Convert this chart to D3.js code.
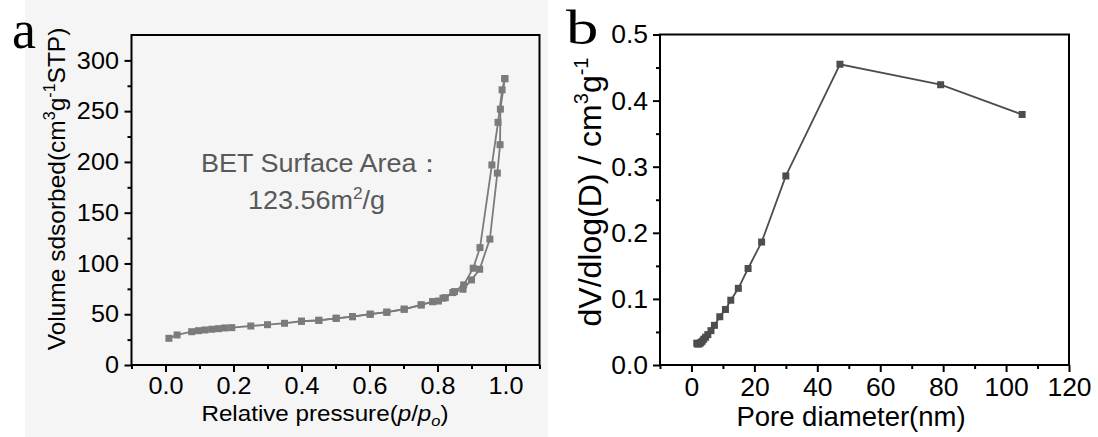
<!DOCTYPE html>
<html>
<head>
<meta charset="utf-8">
<script src="https://cdn.jsdelivr.net/npm/d3@7"></script>
<style>
body { margin: 0; background: #fff; }
text { font-family: Arial, "Liberation Sans", sans-serif; }
.axis path, .axis line { stroke: #000; stroke-width: 2px; }
.axis .tick text { fill: #000; }
</style>
</head>
<body>
<svg id="fig" width="1098" height="437"></svg>
<script>
// ---- panel a: N2 adsorption / desorption isotherm ----
var adsP = [0.01, 0.034, 0.077, 0.097, 0.116, 0.136, 0.156, 0.175, 0.195, 0.251, 0.30, 0.35, 0.40, 0.451, 0.502, 0.55, 0.602, 0.651, 0.702, 0.752, 0.786, 0.816, 0.845, 0.875, 0.90, 0.924, 0.954, 0.976, 0.984, 0.985, 0.998];
var adsV = [26.3, 29.6, 32.8, 33.8, 34.5, 35.2, 35.8, 36.5, 36.8, 38.4, 39.7, 41.1, 43.1, 44, 46, 47.6, 50, 52, 54.9, 59.2, 62.4, 65.8, 71.3, 74.6, 83.8, 94.3, 124, 189, 217, 252, 282];
var desP = [0.998, 0.99, 0.978, 0.96, 0.925, 0.905, 0.877, 0.85, 0.823, 0.803, 0.786, 0.752, 0.702, 0.651, 0.602, 0.55, 0.502, 0.451, 0.40];
var desV = [282, 271, 239, 197, 115.6, 95.3, 78.9, 72.3, 66.3, 63, 62.4, 59.2, 55, 52, 50, 47.6, 46, 44, 43.1];
var aTicksX = [0, 0.2, 0.4, 0.6, 0.8, 1.0];
var aMinorX = [-0.1, 0.1, 0.3, 0.5, 0.7, 0.9, 1.1];
var aTicksY = [0, 50, 100, 150, 200, 250, 300];
var aMinorY = [25, 75, 125, 175, 225, 275];

// ---- panel b: pore size distribution ----
var poreD = [1.7, 1.9, 2.1, 2.4, 2.7, 3.0, 3.4, 3.9, 4.5, 5.2, 6.2, 7.3, 9.0, 10.8, 12.5, 14.9, 18.0, 22.3, 30.0, 47.2, 79.2, 105.1];
var poreV = [0.033, 0.032, 0.032, 0.032, 0.033, 0.034, 0.036, 0.039, 0.042, 0.046, 0.052, 0.060, 0.073, 0.084, 0.098, 0.116, 0.146, 0.186, 0.286, 0.455, 0.424, 0.379];
var bTicksX = [0, 20, 40, 60, 80, 100, 120];
var bMinorX = [-10, 10, 30, 50, 70, 90, 110];
var bTicksY = [0, 0.1, 0.2, 0.3, 0.4, 0.5];
var bMinorY = [0.05, 0.15, 0.25, 0.35, 0.45];

var svg = d3.select("#fig");

// light grey scanned background behind panel a
svg.append("rect").attr("x", 25).attr("y", 0).attr("width", 523).attr("height", 437).attr("fill", "#f5f5f5");

function drawPanel(o) {
  var x = d3.scaleLinear().domain(o.xDomain).range([o.left, o.right]);
  var y = d3.scaleLinear().domain(o.yDomain).range([o.bottom, o.top]);

  // frame
  svg.append("rect")
    .attr("x", o.left).attr("y", o.top)
    .attr("width", o.right - o.left).attr("height", o.bottom - o.top)
    .attr("fill", "none").attr("stroke", "#000").attr("stroke-width", 2);

  // minor ticks
  svg.append("g").attr("class", "axis")
    .attr("transform", "translate(0," + o.bottom + ")")
    .call(d3.axisBottom(x).tickValues(o.minorX).tickSize(4).tickFormat(""))
    .select(".domain").remove();
  svg.append("g").attr("class", "axis")
    .attr("transform", "translate(" + o.left + ",0)")
    .call(d3.axisLeft(y).tickValues(o.minorY).tickSize(4).tickFormat(""))
    .select(".domain").remove();

  // major ticks
  var gx = svg.append("g").attr("class", "axis")
    .attr("transform", "translate(0," + o.bottom + ")")
    .call(d3.axisBottom(x).tickValues(o.ticksX).tickSize(7).tickPadding(o.xPad).tickFormat(o.fmtX));
  gx.select(".domain").remove();
  gx.selectAll(".tick text").style("font-size", o.tickFont + "px")
    .attr("transform", "scale(" + o.sx + ",1)");

  var gy = svg.append("g").attr("class", "axis")
    .attr("transform", "translate(" + o.left + ",0)")
    .call(d3.axisLeft(y).tickValues(o.ticksY).tickSize(7).tickPadding(5).tickFormat(o.fmtY));
  gy.select(".domain").remove();
  gy.selectAll(".tick text").style("font-size", o.tickFont + "px")
    .attr("transform", "scale(" + o.sx + ",1)");

  return {x: x, y: y};
}

function series(sc, xs, ys, color, size) {
  var pts = xs.map(function(d, i) { return [d, ys[i]]; });
  var line = d3.line().x(function(d) { return sc.x(d[0]); }).y(function(d) { return sc.y(d[1]); });
  svg.append("path").datum(pts)
    .attr("d", line).attr("fill", "none")
    .attr("stroke", color).attr("stroke-width", 1.8);
  svg.append("g").selectAll("rect").data(pts).enter().append("rect")
    .attr("x", function(d) { return sc.x(d[0]) - size / 2; })
    .attr("y", function(d) { return sc.y(d[1]) - size / 2; })
    .attr("width", size).attr("height", size)
    .attr("fill", color);
}

// stretched text group helper
function label(x, y, sx, rot) {
  var g = svg.append("g").attr("transform", "translate(" + x + "," + y + ") scale(" + sx + ",1)" + (rot ? " rotate(-90)" : ""));
  return g.append("text");
}

// ---- panel a ----
var sa = drawPanel({
  left: 131.5, right: 539.5, top: 35, bottom: 365,
  xDomain: [-0.1, 1.1], yDomain: [0, 325],
  ticksX: aTicksX, minorX: aMinorX, ticksY: aTicksY, minorY: aMinorY,
  fmtX: d3.format(".1f"), fmtY: d3.format("d"),
  tickFont: 24, sx: 1.05, xPad: 5
});
series(sa, adsP, adsV, "#7b7b7b", 7);
series(sa, desP, desV, "#7b7b7b", 7);

var ta = label(325, 421, 1.1).attr("text-anchor", "middle").style("font-size", "22px");
ta.append("tspan").text("Relative pressure(");
ta.append("tspan").style("font-style", "italic").text("p");
ta.append("tspan").text("/");
ta.append("tspan").style("font-style", "italic").text("p");
ta.append("tspan").style("font-style", "italic").style("font-size", "15px").attr("dy", 5).text("o");
ta.append("tspan").attr("dy", -5).text(")");

var ya = label(65, 189, 1, true).attr("text-anchor", "middle").style("font-size", "24.5px");
ya.append("tspan").text("Volume sdsorbed(cm");
ya.append("tspan").style("font-size", "16px").attr("dy", -10).text("3");
ya.append("tspan").attr("dy", 10).text("g");
ya.append("tspan").style("font-size", "16px").attr("dy", -10).text("-1");
ya.append("tspan").attr("dy", 10).text("STP)");

label(201, 172, 1.08).style("font-size", "25px").attr("fill", "#595959").text("BET Surface Area\uFF1A");
var bet = label(248, 209, 1.08).style("font-size", "25px").attr("fill", "#595959");
bet.append("tspan").text("123.56m");
bet.append("tspan").style("font-size", "16px").attr("dy", -10).text("2");
bet.append("tspan").attr("dy", 10).text("/g");

label(12, 48, 1).style("font-family", "'Liberation Serif', 'Times New Roman', serif").style("font-size", "54px").text("a");

// ---- panel b ----
var sb = drawPanel({
  left: 660, right: 1069, top: 34.5, bottom: 365,
  xDomain: [-10, 120], yDomain: [0, 0.5],
  ticksX: bTicksX, minorX: bMinorX, ticksY: bTicksY, minorY: bMinorY,
  fmtX: d3.format("d"), fmtY: d3.format(".1f"),
  tickFont: 26.5, sx: 1, xPad: 5
});
series(sb, poreD, poreV, "#4d4d4d", 7);

label(851, 426, 1).attr("text-anchor", "middle").style("font-size", "27.5px").text("Pore diameter(nm)");

var yb = label(601, 192, 1, true).attr("text-anchor", "middle").style("font-size", "32px");
yb.append("tspan").text("dV/dlog(D) / cm");
yb.append("tspan").style("font-size", "20px").attr("dy", -13).text("3");
yb.append("tspan").attr("dy", 13).text("g");
yb.append("tspan").style("font-size", "20px").attr("dy", -13).text("-1");

label(566, 44, 1.35).style("font-family", "'Liberation Serif', 'Times New Roman', serif").style("font-size", "48px").text("b");
</script>
</body>
</html>
